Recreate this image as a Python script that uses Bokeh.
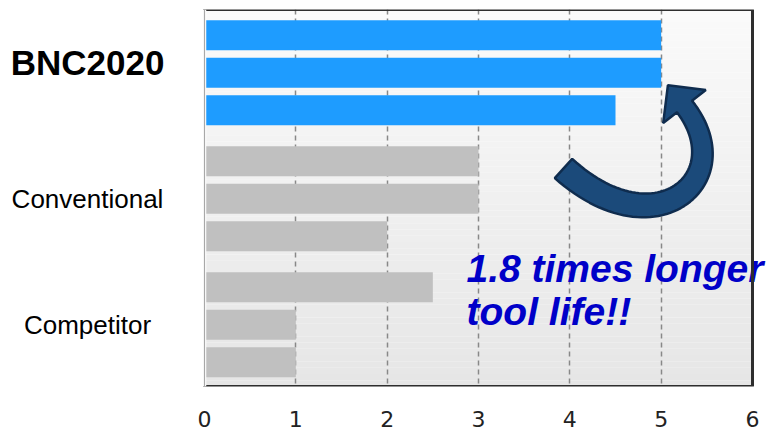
import numpy as np
from bokeh.plotting import figure
from bokeh.models import Range1d, FixedTicker, BoxAnnotation, Span
from bokeh.core.properties import value
from bokeh.embed import file_html
from bokeh.resources import INLINE

# ---- data ----
groups = ["BNC2020", "Conventional", "Competitor"]
values = [[5.0, 5.0, 4.5], [3.0, 3.0, 2.0], [2.5, 1.0, 1.0]]
bar_colors = ["#1e9cff", "#c0c0c0", "#c0c0c0"]
x_ticks = [0, 1, 2, 3, 4, 5, 6]
note_lines = ["1.8 times longer", "tool life!!"]

GROUP_STEP = 3.36
BAR_H = 0.8
Y_TOP, Y_BOT = -0.685, 9.368
X_MIN, X_MAX = 0, 6

W, H = 773, 432
PLOT_L, PLOT_R, PLOT_T, PLOT_B = 204, 752, 9, 386
px_per_x = (PLOT_R - PLOT_L) / (X_MAX - X_MIN)
px_per_y = (PLOT_B - PLOT_T) / (Y_BOT - Y_TOP)

# frame spans the whole width so labels outside the value area are not clipped
xr = Range1d(X_MIN - PLOT_L / px_per_x, X_MAX + (W - PLOT_R) / px_per_x)
p = figure(width=W, height=H, output_backend="svg", toolbar_location=None,
           x_range=xr, y_range=Range1d(Y_BOT, Y_TOP),
           min_border_left=0, min_border_right=0, min_border_top=PLOT_T,
           min_border_bottom=H - PLOT_B)
p.border_fill_color = "#ffffff"
p.background_fill_color = "#ffffff"
p.outline_line_color = None

# gradient background of the value area
n = 60
edges = np.linspace(Y_TOP, Y_BOT, n + 1)
cols = []
for k in range(n):
    f = k / (n - 1)
    c = int(round(250 - f * (250 - 230)))
    cols.append("#%02x%02x%02x" % (c, c, c))
bg = p.quad(left=X_MIN, right=X_MAX, top=edges[:-1].tolist(), bottom=edges[1:].tolist(),
            fill_color=cols, line_color=None)
bg.level = "image"

ys, xs, cs = [], [], []
for g, vals in enumerate(values):
    for i, v in enumerate(vals):
        ys.append(g * GROUP_STEP + i)
        xs.append(v)
        cs.append(bar_colors[g])
p.hbar(y=ys, right=xs, left=0, height=BAR_H, fill_color=cs, line_color=None)

# frame border of the value area
p.add_layout(BoxAnnotation(left=X_MIN, right=X_MAX, top=Y_TOP, bottom=Y_BOT,
                           fill_color=None, fill_alpha=0, line_color="#2e2e2e",
                           line_alpha=1.0, line_width=3))
p.add_layout(Span(location=X_MIN, dimension="height", line_color="#ffffff", line_width=3.5))
p.add_layout(Span(location=X_MIN, dimension="height", line_color="#a8a8a8", line_width=1.2))

# axes / grid
p.yaxis.visible = False
p.ygrid.visible = False
p.xgrid.grid_line_color = "#888888"
p.xgrid.grid_line_dash = "5 4"
p.xgrid.grid_line_width = 1.5
p.xgrid.ticker = FixedTicker(ticks=x_ticks[1:-1])
p.xaxis.ticker = FixedTicker(ticks=x_ticks)
p.xaxis.axis_line_color = None
p.xaxis.major_tick_line_color = None
p.xaxis.minor_tick_line_color = None
p.xaxis.major_label_text_font = "DejaVu Sans"
p.xaxis.major_label_text_font_size = "22px"
p.xaxis.major_label_text_color = "#222222"
p.xaxis.major_label_standoff = 18

# category labels
lab_x = X_MIN - (PLOT_L - 87) / px_per_x
for g, name in enumerate(groups):
    bold = g == 0
    p.text(x=[lab_x], y=[g * GROUP_STEP + 1], text=[name],
           y_offset=(-10 if bold else 0),
           text_align="center", text_baseline="middle",
           text_font=value("Liberation Sans"),
           text_font_style="bold" if bold else "normal",
           text_font_size="35px" if bold else "26px",
           text_color="#000000")

def to_data(px, py):
    return X_MIN + (px - PLOT_L) / px_per_x, Y_TOP + (py - PLOT_T) / px_per_y

# curved arrow (annotation shape)
P0 = np.array([563.0, 168.0]); P1 = np.array([655.0, 251.0])
P2 = np.array([740.0, 178.0]); P3 = np.array([684.0, 106.0])
t = np.linspace(0, 1, 60)[:, None]
C = (1 - t) ** 3 * P0 + 3 * (1 - t) ** 2 * t * P1 + 3 * (1 - t) * t ** 2 * P2 + t ** 3 * P3
D = 3 * (1 - t) ** 2 * (P1 - P0) + 6 * (1 - t) * t * (P2 - P1) + 3 * t ** 2 * (P3 - P2)
D = D / np.linalg.norm(D, axis=1)[:, None]
N = np.column_stack([-D[:, 1], D[:, 0]])
w = (13.0 - 3.5 * t)
plus = C + w * N
minus = C - w * N
dend = D[-1]; nend = N[-1]
barb_p = P3 + 27 * nend
barb_m = P3 - 27 * nend
tip = P3 + 27 * dend
poly = np.vstack([plus, [barb_p], [tip], [barb_m], minus[::-1]])
ax, ay = zip(*[to_data(a, b) for a, b in poly])
p.patch(list(ax), list(ay), fill_color="#1b4a7a", line_color="#0f2c4e", line_width=2.5)

# note text
for txt, by in zip(note_lines, [268, 311]):
    nx, ny = to_data(466, by)
    p.text(x=[nx], y=[ny], text=[txt], text_align="left", text_baseline="alphabetic",
           text_font=value("Liberation Sans"), text_font_style="bold italic",
           text_font_size="39px", text_color="#0000c8")

open("out.html", "w").write(file_html(p, INLINE))
